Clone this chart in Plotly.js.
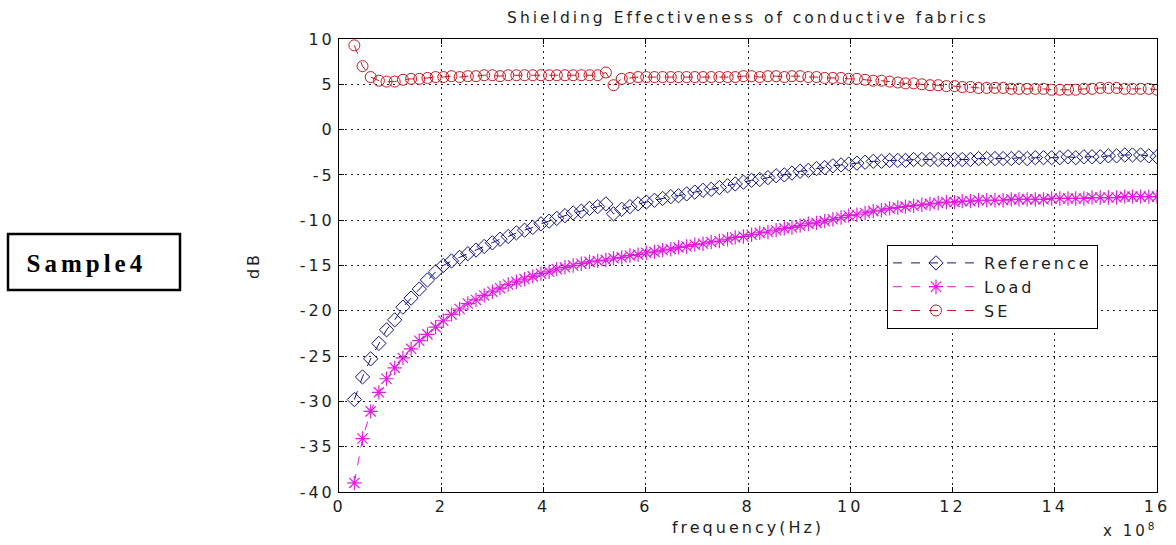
<!DOCTYPE html>
<html>
<head>
<meta charset="utf-8">
<script src="https://cdn.plot.ly/plotly-3.0.1.min.js"></script>
<style>
  html, body { margin: 0; padding: 0; background: #fff; }
  #chart { width: 1176px; height: 545px; }
  svg text { letter-spacing: 3px; }
  svg .annotation[data-index="0"] text { letter-spacing: 4px; }
</style>
</head>
<body>
<div id="chart"></div>
<script>
// Frequency sweep, in units of 1e8 Hz (30 MHz to 1.6 GHz, 100 points)
const freq = [
  0.30, 0.46, 0.62, 0.78, 0.93, 1.09, 1.25, 1.41, 1.57, 1.73,
  1.89, 2.04, 2.20, 2.36, 2.52, 2.68, 2.84, 3.00, 3.15, 3.31,
  3.47, 3.63, 3.79, 3.95, 4.11, 4.26, 4.42, 4.58, 4.74, 4.90,
  5.06, 5.22, 5.37, 5.53, 5.69, 5.85, 6.01, 6.17, 6.33, 6.49,
  6.64, 6.80, 6.96, 7.12, 7.28, 7.44, 7.60, 7.75, 7.91, 8.07,
  8.23, 8.39, 8.55, 8.71, 8.86, 9.02, 9.18, 9.34, 9.50, 9.66,
  9.82, 9.97, 10.13, 10.29, 10.45, 10.61, 10.77, 10.93, 11.08, 11.24,
  11.40, 11.56, 11.72, 11.88, 12.04, 12.19, 12.35, 12.51, 12.67, 12.83,
  12.99, 13.15, 13.30, 13.46, 13.62, 13.78, 13.94, 14.10, 14.26, 14.41,
  14.57, 14.73, 14.89, 15.05, 15.21, 15.37, 15.52, 15.68, 15.84, 16.00
];

// Received level without fabric (dB)
const reference = [
  -29.8, -27.3, -25.3, -23.6, -22.1, -21.0, -19.6, -18.6, -17.6, -16.6,
  -15.7, -15.0, -14.5, -14.1, -13.7, -13.3, -12.9, -12.5, -12.1, -11.8,
  -11.4, -11.1, -10.8, -10.4, -10.1, -9.8, -9.5, -9.2, -9.0, -8.7,
  -8.5, -8.2, -9.3, -8.8, -8.5, -8.2, -8.0, -7.8, -7.6, -7.4,
  -7.3, -7.1, -6.9, -6.7, -6.6, -6.4, -6.2, -6.0, -5.8, -5.6,
  -5.5, -5.3, -5.1, -5.0, -4.8, -4.6, -4.5, -4.3, -4.2, -4.0,
  -3.9, -3.8, -3.7, -3.6, -3.5, -3.5, -3.4, -3.4, -3.4, -3.3,
  -3.3, -3.3, -3.3, -3.3, -3.3, -3.3, -3.3, -3.2, -3.2, -3.2,
  -3.2, -3.2, -3.1, -3.2, -3.1, -3.1, -3.1, -3.1, -3.0, -3.1,
  -3.0, -3.0, -3.0, -2.9, -2.9, -2.8, -2.8, -2.8, -2.9, -3.0
];

// Received level with the conductive fabric in place (dB)
const load = [
  -39.0, -34.1, -31.1, -29.0, -27.5, -26.3, -25.2, -24.2, -23.3, -22.6,
  -21.8, -21.1, -20.4, -19.8, -19.2, -18.8, -18.3, -17.9, -17.5, -17.1,
  -16.8, -16.5, -16.2, -15.9, -15.7, -15.4, -15.2, -15.0, -14.8, -14.6,
  -14.5, -14.4, -14.2, -14.1, -13.9, -13.8, -13.6, -13.5, -13.3, -13.2,
  -13.0, -12.9, -12.7, -12.6, -12.4, -12.3, -12.1, -11.9, -11.8, -11.6,
  -11.4, -11.3, -11.1, -10.9, -10.8, -10.6, -10.4, -10.3, -10.1, -9.9,
  -9.7, -9.5, -9.4, -9.2, -9.0, -8.9, -8.7, -8.6, -8.5, -8.4,
  -8.3, -8.2, -8.1, -8.0, -8.0, -7.9, -7.9, -7.8, -7.8, -7.8,
  -7.8, -7.7, -7.7, -7.7, -7.7, -7.7, -7.6, -7.6, -7.6, -7.6,
  -7.6, -7.5, -7.5, -7.5, -7.5, -7.4, -7.4, -7.4, -7.4, -7.4
];

// Shielding effectiveness (dB)
const se = [
  9.3, 7.0, 5.8, 5.4, 5.3, 5.3, 5.5, 5.6, 5.6, 5.7,
  5.8, 5.8, 5.9, 5.8, 5.9, 5.9, 6.0, 6.0, 5.9, 6.0,
  6.0, 6.0, 6.0, 6.0, 6.0, 6.0, 6.0, 6.0, 6.0, 6.0,
  6.0, 6.3, 4.9, 5.6, 5.7, 5.8, 5.8, 5.8, 5.8, 5.8,
  5.8, 5.8, 5.8, 5.8, 5.8, 5.8, 5.8, 5.8, 5.9, 5.9,
  5.8, 5.9, 5.9, 5.8, 5.9, 5.9, 5.8, 5.8, 5.7, 5.7,
  5.7, 5.6, 5.6, 5.5, 5.4, 5.4, 5.3, 5.2, 5.1, 5.1,
  5.0, 4.9, 4.9, 4.8, 4.8, 4.7, 4.7, 4.6, 4.6, 4.6,
  4.6, 4.5, 4.5, 4.5, 4.5, 4.5, 4.4, 4.4, 4.4, 4.4,
  4.5, 4.5, 4.6, 4.6, 4.6, 4.5, 4.5, 4.5, 4.5, 4.4
];

const xTicks = [0, 2, 4, 6, 8, 10, 12, 14, 16];
const yTicks = [-40, -35, -30, -25, -20, -15, -10, -5, 0, 5, 10];

const FONT = 'DejaVu Sans, Liberation Sans, Arial, sans-serif';
const TXT = '#1e1e1e';

const traces = [
  {
    x: freq, y: reference, name: 'Reference', type: 'scatter', mode: 'lines+markers',
    line: { color: '#12127e', width: 1, dash: 'dash' },
    marker: { symbol: 'diamond-open', size: 11, color: '#12127e', line: { width: 1 } }
  },
  {
    x: freq, y: load, name: 'Load', type: 'scatter', mode: 'lines+markers',
    line: { color: '#e01ee0', width: 1, dash: 'dash' },
    marker: { symbol: 'asterisk-open', size: 12, color: '#e01ee0', line: { width: 1.2, color: '#e01ee0' } }
  },
  {
    x: freq, y: se, name: 'SE', type: 'scatter', mode: 'lines+markers',
    line: { color: '#c41a22', width: 1, dash: 'dash' },
    marker: { symbol: 'circle-open', size: 11, color: '#c41a22', line: { width: 1 } }
  }
];

const axisCommon = {
  showline: true, linecolor: '#000', linewidth: 1, mirror: 'ticks',
  ticks: 'inside', ticklen: 5, tickcolor: '#000', tickwidth: 1,
  showgrid: true, gridcolor: '#222', gridwidth: 1, griddash: '1.5px,4.5px',
  zeroline: false, tickfont: { family: FONT, size: 16, color: TXT }
};

// Paper coordinates of the label box on the left
const plotL = 339, plotW = 818, plotT = 39, plotH = 453;
const px2x = p => (p - plotL) / plotW;
const px2y = p => 1 - (p - plotT) / plotH;

const layout = {
  width: 1176, height: 545,
  margin: { l: plotL, r: 1176 - plotL - plotW, t: plotT, b: 545 - plotT - plotH },
  paper_bgcolor: '#fff', plot_bgcolor: '#fff',
  showlegend: true,
  title: {
    text: 'Shielding Effectiveness of conductive fabrics',
    font: { family: FONT, size: 15.5, color: TXT },
    x: 0.5, xref: 'paper', xanchor: 'center',
    y: 0.967, yref: 'container', yanchor: 'middle'
  },
  xaxis: Object.assign({}, axisCommon, {
    range: [0, 16], tickvals: xTicks, ticktext: xTicks.map(String),
    title: { text: 'frequency(Hz)', font: { family: FONT, size: 16, color: TXT }, standoff: 6 }
  }),
  yaxis: Object.assign({}, axisCommon, {
    range: [-40, 10], tickvals: yTicks, ticktext: yTicks.map(String),
    title: { text: 'dB', font: { family: FONT, size: 16, color: TXT }, standoff: 36 }
  }),
  legend: {
    x: px2x(887), y: px2y(245), xanchor: 'left', yanchor: 'top',
    bgcolor: '#fff', bordercolor: '#000', borderwidth: 1,
    font: { family: FONT, size: 16, color: TXT },
    itemwidth: 86, tracegroupgap: 0
  },
  shapes: [
    {
      type: 'rect', xref: 'paper', yref: 'paper',
      x0: px2x(8), x1: px2x(180), y0: px2y(290), y1: px2y(234),
      line: { color: '#000', width: 2.5 }, fillcolor: '#fff'
    }
  ],
  annotations: [
    {
      text: '<b>Sample4</b>', xref: 'paper', yref: 'paper',
      x: px2x(86), y: px2y(263), xanchor: 'center', yanchor: 'middle',
      showarrow: false,
      font: { family: 'Liberation Serif, Times New Roman, serif', size: 25, color: '#000' }
    },
    {
      text: 'x 10<sup>8</sup>', xref: 'paper', yref: 'paper',
      x: px2x(1130), y: px2y(530), xanchor: 'center', yanchor: 'middle', showarrow: false,
      font: { family: FONT, size: 15, color: TXT }
    }
  ]
};

Plotly.newPlot('chart', traces, layout, { displayModeBar: false, staticPlot: true });
</script>
</body>
</html>
